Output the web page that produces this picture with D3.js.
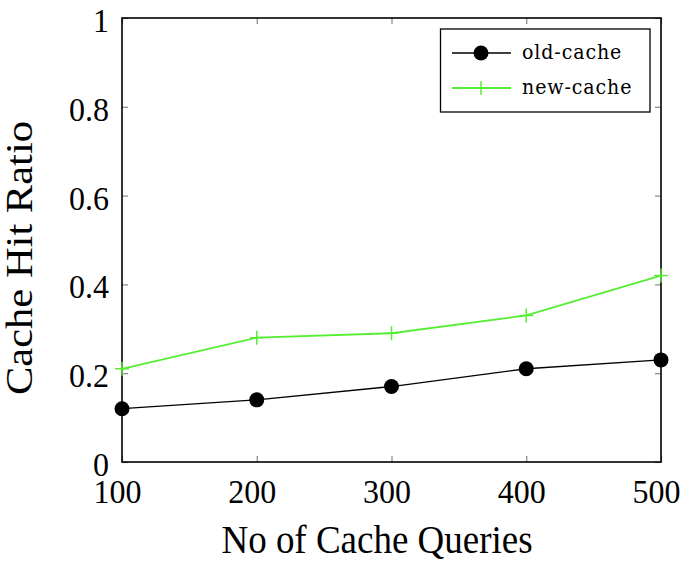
<!DOCTYPE html>
<html><head><meta charset="utf-8">
<script src="https://cdn.jsdelivr.net/npm/d3@7"></script>
<style>body{margin:0;background:#fff}svg{display:block}</style>
</head><body>
<script>
const queries = [100, 200, 300, 400, 500];
const oldCache = [0.12, 0.14, 0.17, 0.21, 0.23];
const newCache = [0.21, 0.28, 0.29, 0.33, 0.42];
const xTicks = [100, 200, 300, 400, 500];
const yTicks = [0, 0.2, 0.4, 0.6, 0.8, 1];
const yTickLabels = ["0", "0.2", "0.4", "0.6", "0.8", "1"];
const seriesNames = ["old-cache", "new-cache"];

const W = 685, H = 568;
const m = {left: 122, right: 24, top: 18, bottom: 106};
const font = "'Liberation Serif', serif";
const lfont = "'DejaVu Serif', serif";
const sy = 1.05;  // vertical stretch of tick glyphs
const sty = 1.1;  // vertical stretch of title glyphs
const svg = d3.select("body").append("svg").attr("width", W).attr("height", H);
const x = d3.scaleLinear().domain([100, 500]).range([m.left, W - m.right]);
const y = d3.scaleLinear().domain([0, 1]).range([H - m.bottom, m.top]);
const tickColor = "#888";
const tl = 6;

const g = svg.append("g");
const xb = g.append("g").attr("transform", `translate(0,${y(0)})`)
  .call(d3.axisBottom(x).tickValues(xTicks).tickSize(-tl).tickFormat(d3.format("d")));
const xt = g.append("g").attr("transform", `translate(0,${y(1)})`)
  .call(d3.axisTop(x).tickValues(xTicks).tickSize(-tl).tickFormat(""));
const yl = g.append("g").attr("transform", `translate(${x(100)},0)`)
  .call(d3.axisLeft(y).tickValues(yTicks).tickSize(-tl).tickPadding(13).tickFormat((d,i)=>yTickLabels[i]));
const yr = g.append("g").attr("transform", `translate(${x(500)},0)`)
  .call(d3.axisRight(y).tickValues(yTicks).tickSize(-tl).tickFormat(""));
[xb, xt, yl, yr].forEach(a => {
  a.select(".domain").remove();
  a.selectAll(".tick line").attr("stroke", tickColor).attr("stroke-width", 1.2);
  a.selectAll("text").attr("font-family", font).attr("font-size", 32).attr("fill", "#000");
});
xb.selectAll("text").attr("dy", null).attr("y", 41 / sy).attr("x", -5).attr("transform", `scale(1,${sy})`);
yl.selectAll("text").attr("dy", "0.4em").attr("transform", `scale(1,${sy})`);

g.append("rect").attr("x", x(100)).attr("y", y(1)).attr("width", x(500) - x(100)).attr("height", y(0) - y(1))
  .attr("fill", "none").attr("stroke", "#000").attr("stroke-width", 1.6);

const green = "#55ee33";
const line = d3.line().x((d, i) => x(queries[i])).y(d => y(d));
svg.append("path").datum(oldCache).attr("d", line).attr("fill", "none").attr("stroke", "#000").attr("stroke-width", 1.3);
svg.append("path").datum(newCache).attr("d", line).attr("fill", "none").attr("stroke", green).attr("stroke-width", 1.8);

svg.selectAll(".dot").data(oldCache).join("circle")
  .attr("cx", (d, i) => x(queries[i])).attr("cy", d => y(d)).attr("r", 7.5).attr("fill", "#000");
const cs = 7;
const plus = svg.selectAll(".plus").data(newCache).join("g")
  .attr("transform", (d, i) => `translate(${x(queries[i])},${y(d)})`);
plus.append("line").attr("x1", -cs).attr("x2", cs).attr("stroke", green).attr("stroke-width", 1.5);
plus.append("line").attr("y1", -cs).attr("y2", cs).attr("stroke", green).attr("stroke-width", 1.5);

// legend
const lg = svg.append("g");
lg.append("rect").attr("x", 440.5).attr("y", 29).attr("width", 209.5).attr("height", 83)
  .attr("fill", "#fff").attr("stroke", "#000").attr("stroke-width", 1.3);
const ly = [53, 88];
lg.append("line").attr("x1", 452).attr("x2", 511).attr("y1", ly[0]).attr("y2", ly[0]).attr("stroke", "#000").attr("stroke-width", 1.3);
lg.append("circle").attr("cx", 481).attr("cy", ly[0]).attr("r", 7.5).attr("fill", "#000");
lg.append("line").attr("x1", 452).attr("x2", 511).attr("y1", ly[1]).attr("y2", ly[1]).attr("stroke", green).attr("stroke-width", 1.8);
lg.append("line").attr("x1", 481).attr("x2", 481).attr("y1", ly[1] - cs).attr("y2", ly[1] + cs).attr("stroke", green).attr("stroke-width", 1.5);
lg.selectAll(".lt").data(seriesNames).join("text")
  .attr("transform", (d, i) => `translate(522,${ly[i] + 6}) scale(1,1.05)`)
  .attr("font-family", lfont).attr("font-size", 19).attr("letter-spacing", 0.9).text(d => d);

// axis titles
svg.append("text").attr("transform", `translate(377,553) scale(1,${sty})`).attr("text-anchor", "middle")
  .attr("font-family", font).attr("font-size", 37).text("No of Cache Queries");
svg.append("text").attr("transform", `translate(32,258) scale(1,1.15) rotate(-90)`).attr("text-anchor", "middle")
  .attr("font-family", font).attr("font-size", 37).text("Cache Hit Ratio");
</script>
</body></html>
